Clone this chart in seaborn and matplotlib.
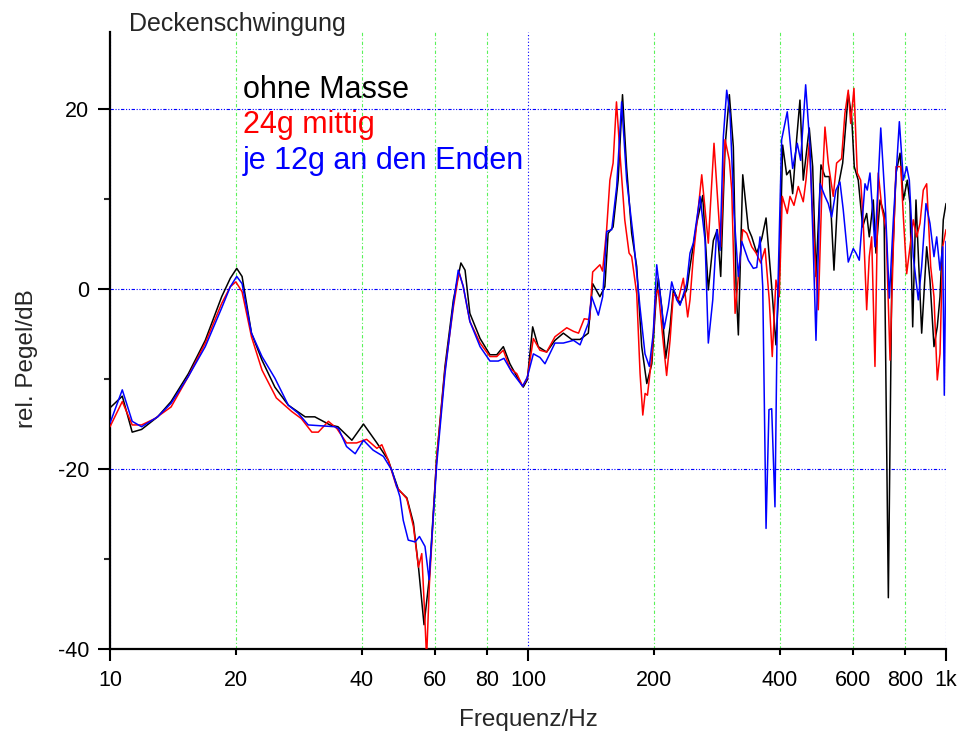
import numpy as np
import pandas as pd
import matplotlib
matplotlib.use("Agg")
import matplotlib.pyplot as plt
import matplotlib.ticker as mticker
import seaborn as sns

# ---------------- data ----------------
black_f = [10.0, 10.7, 11.3, 11.9, 13.0, 14.0, 15.4, 16.9, 18.5, 19.4,
           20.1, 20.7, 21.8, 23.1, 24.8, 26.7, 29.3, 30.9, 33.6, 35.1,
           37.9, 40.4, 43.5, 46.3, 49.0, 51.3, 53.2, 54.7, 56.4, 58.0,
           60.5, 63.3, 66.3, 69.1, 70.7, 72.6, 76.8, 81.1, 84.2, 87.3,
           90.5, 94.0, 97.4, 99.6, 102.6, 105.8, 110.8, 116.0, 121.5, 127.2,
           133.2, 139.4, 142.8, 148.6, 152.7, 155.5, 159.8, 164.3, 168.3, 172.1,
           177.0, 182.0, 187.1, 192.4, 197.8, 202.4, 205.0, 208.9, 213.5, 218.7,
           222.7, 231.1, 239.7, 244.1, 253.3, 261.8, 270.0, 277.6, 283.8, 289.1,
           296.1, 303.2, 309.9, 314.6, 318.6, 326.4, 336.6, 343.0, 352.6, 362.4,
           371.1, 382.8, 391.9, 399.1, 406.7, 415.7, 423.4, 429.7, 439.3, 447.3,
           455.5, 470.8, 479.8, 488.6, 502.2, 513.4, 525.7, 539.5, 552.4, 566.0,
           583.7, 594.8, 603.3, 616.7, 631.9, 646.0, 655.3, 669.9, 679.9, 695.4,
           710.9, 727.9, 741.7, 759.4, 776.4, 790.7, 808.0, 820.1, 832.4, 847.6,
           874.6, 899.0, 915.5, 935.9, 953.1, 967.5, 985.2, 1000]
black_db = [-13.2, -11.9, -15.9, -15.6, -14.2, -12.5, -9.4, -5.7, -0.85, 1.2,
            2.3, 1.4, -4.9, -7.9, -10.9, -12.9, -14.2, -14.2, -15.1, -15.3,
            -16.8, -15.0, -17.1, -19.0, -22.3, -23.2, -26.0, -30.9, -37.3, -32.3,
            -18.6, -8.6, -1.2, 2.9, 2.1, -2.7, -5.5, -7.3, -7.3, -6.4,
            -8.3, -9.7, -10.9, -10.1, -4.2, -6.4, -7.0, -5.7, -4.9, -5.6,
            -5.6, -4.9, 0.6, -0.85, 0.26, 6.2, 6.9, 12.1, 21.6, 13.6,
            6.2, 2.5, -6.4, -10.5, -8.3, -1.2, 1.2, -2.0, -7.7, -4.2,
            -0.1, -1.6, -0.1, 2.5, 7.3, 10.4, -0.1, 5.4, 6.6, 1.4,
            15.8, 21.6, 15.8, 0.26, -5.1, 12.7, 6.7, 5.8, 4.0, 5.6,
            7.9, 0.26, -6.2, 1.0, 16.0, 12.7, 13.2, 10.6, 16.7, 21.0,
            12.1, 17.9, 13.6, 1.4, 13.8, 12.5, 12.5, 2.1, 11.4, 14.0,
            21.7, 19.1, 13.6, 12.1, 6.9, 8.4, 5.8, 9.9, 4.0, 9.9,
            8.4, -34.3, 1.0, 12.9, 15.1, 9.9, 12.1, 9.5, -4.2, 9.9,
            -4.9, 4.7, 1.0, -6.4, -4.2, -0.85, 7.7, 9.5]

red_f = [10.0, 10.7, 11.3, 11.9, 12.8, 14.0, 15.4, 16.9, 18.5, 19.4,
         20.0, 20.7, 21.8, 23.1, 25.0, 27.2, 28.7, 30.4, 31.5, 33.3,
         34.9, 36.8, 38.9, 41.1, 43.5, 44.7, 46.3, 48.5, 51.3, 53.2,
         54.7, 55.7, 56.4, 57.2, 58.1, 60.5, 63.3, 66.3, 68.4, 70.0,
         72.6, 76.8, 81.1, 84.2, 87.3, 90.5, 94.0, 97.1, 99.6, 103.0,
         106.8, 110.8, 116.0, 123.8, 128.5, 132.1, 136.3, 140.4, 142.8, 148.6,
         150.8, 154.2, 157.0, 159.8, 162.8, 166.4, 170.4, 174.5, 177.0, 182.0,
         185.4, 188.2, 190.6, 193.1, 197.8, 202.4, 205.0, 210.0, 214.6, 218.7,
         222.7, 228.9, 235.3, 241.0, 244.1, 248.6, 260.4, 270.0, 278.6, 289.1,
         296.1, 303.2, 307.2, 312.9, 318.6, 326.4, 333.7, 343.0, 351.3, 360.4,
         369.1, 377.7, 384.0, 391.9, 399.1, 405.8, 417.1, 423.4, 432.8, 443.2,
         455.5, 462.4, 470.8, 483.2, 494.8, 504.2, 513.4, 522.8, 537.3, 547.4,
         562.6, 572.9, 583.7, 591.5, 602.3, 613.4, 625.0, 634.0, 646.0, 655.3,
         664.0, 676.2, 688.6, 701.9, 718.8, 734.8, 748.2, 759.4, 779.4, 790.7,
         805.3, 820.1, 835.1, 850.9, 866.5, 882.4, 899.0, 919.1, 935.9, 953.1,
         967.5, 982.0, 1000]
red_db = [-15.3, -12.5, -15.1, -15.1, -14.4, -13.1, -9.7, -6.0, -1.6, 0.26,
          0.8, -0.3, -5.3, -9.0, -12.1, -13.6, -14.4, -15.9, -15.9, -14.7,
          -15.5, -17.1, -17.1, -16.7, -17.7, -17.3, -19.0, -22.0, -23.3, -26.4,
          -30.9, -29.4, -34.6, -41.0, -32.7, -18.6, -9.0, -2.0, 1.9, 0.26,
          -3.6, -6.0, -7.5, -7.5, -6.8, -8.8, -9.4, -10.8, -9.9, -5.5,
          -6.8, -7.0, -5.3, -4.3, -4.7, -4.9, -3.3, -3.4, 1.9, 2.7,
          2.0, 6.6, 12.1, 14.0, 20.8, 14.3, 7.7, 4.0, 3.6, -0.5,
          -9.4, -14.0, -11.6, -11.8, -7.5, -0.5, -0.1, -5.3, -9.6, -5.7,
          -0.5, -1.2, 1.2, -3.1, -1.2, 3.6, 12.7, 5.1, 16.2, 4.7,
          16.6, 14.3, 11.0, -2.7, 1.4, 6.6, 6.2, 4.7, 4.0, 2.9,
          4.5, -1.2, -7.5, 1.0, -0.85, 10.3, 8.4, 10.3, 9.3, 11.4,
          9.7, 12.1, 16.2, 5.4, -2.3, 10.3, 18.0, 14.0, 10.3, 14.0,
          14.5, 19.5, 22.1, 18.4, 22.3, 12.9, 12.1, 7.3, -2.3, 3.6,
          5.8, -8.6, 12.9, 9.1, 6.6, -7.9, 4.7, 13.6, 13.6, 8.0,
          1.7, 4.7, 7.7, 5.8, 7.3, 11.0, 11.7, 2.5, -0.85, -10.1,
          -7.2, 4.7, 6.6]

blue_f = [10.0, 10.7, 11.3, 11.9, 13.0, 14.0, 15.4, 16.9, 18.5, 19.4,
          20.1, 20.7, 21.8, 23.1, 24.8, 26.7, 28.2, 29.8, 34.5, 35.2,
          36.8, 38.6, 40.4, 42.6, 45.1, 47.2, 49.4, 50.3, 51.7, 53.7,
          55.0, 56.7, 58.0, 60.5, 63.3, 66.3, 68.1, 70.0, 72.6, 76.8,
          81.1, 84.9, 87.6, 91.4, 97.1, 99.6, 103.0, 106.8, 109.8, 116.0,
          121.5, 128.5, 133.2, 139.4, 142.0, 147.3, 150.9, 154.3, 158.6, 163.0,
          167.5, 172.2, 178.6, 185.3, 190.5, 195.1, 199.4, 203.2, 206.9, 211.6,
          216.6, 220.7, 226.9, 231.1, 239.7, 244.1, 248.6, 258.0, 265.2, 270.0,
          276.7, 282.8, 288.0, 293.3, 298.8, 304.3, 311.1, 318.6, 324.6, 336.6,
          346.0, 352.6, 359.0, 364.4, 371.1, 377.1, 382.8, 389.8, 394.8, 404.4,
          417.1, 429.7, 440.7, 449.0, 461.6, 472.7, 481.3, 488.6, 499.8, 513.4,
          522.8, 532.7, 545.4, 557.6, 567.8, 583.7, 600.0, 609.0, 620.2, 640.0,
          648.1, 657.9, 676.2, 698.1, 714.8, 731.9, 748.2, 773.4, 790.7, 805.3,
          817.0, 835.1, 858.5, 874.6, 895.5, 915.5, 935.9, 950.0, 967.5, 982.0,
          990.7, 1000]
blue_db = [-14.9, -11.2, -14.7, -15.3, -14.2, -12.7, -9.7, -6.4, -2.1, 0.26,
           1.4, 0.6, -4.9, -7.5, -9.9, -12.9, -13.8, -15.1, -15.3, -15.5,
           -17.5, -18.3, -16.8, -17.9, -18.6, -20.1, -23.1, -25.7, -27.9, -28.1,
           -27.5, -28.6, -32.3, -19.4, -9.4, -1.6, 2.1, 0.3, -3.6, -6.4,
           -8.0, -8.0, -7.7, -9.2, -10.8, -9.8, -7.2, -7.6, -8.3, -6.0,
           -6.0, -5.7, -6.2, -3.8, -0.85, -2.9, -0.85, 6.4, 6.6, 11.4,
           20.8, 12.1, 5.8, -2.0, -7.2, -8.6, -4.9, 2.7, -0.5, -4.4,
           -2.0, 0.8, -1.2, -1.8, 0.6, 4.0, 5.1, 10.3, 5.4, -6.0,
           -1.2, 6.6, 4.3, 16.9, 22.1, 19.5, 8.4, 1.4, 5.3, 3.2,
           2.3, 2.4, 5.8, 0.26, -26.6, -13.4, -13.3, -24.2, -2.7, 16.6,
           19.7, 13.4, 16.2, 14.3, 22.7, 15.8, 4.7, -5.7, 11.7, 10.3,
           9.5, 8.0, 11.0, 11.9, 8.8, 3.0, 4.5, 4.0, 3.2, 11.7,
           11.0, 12.9, 4.7, 17.9, 9.9, -1.0, 7.7, 18.6, 12.1, 13.6,
           12.1, 3.6, -1.2, 2.5, 9.5, 7.3, 3.6, 5.8, 2.1, 4.7,
           -11.8, 5.3]

series_names = ["ohne Masse", "24g mittig", "je 12g an den Enden"]
series_colors = ["#000000", "#ff0000", "#0000ff"]
x_major_ticks = [10, 100, 1000]
x_major_labels = ["10", "100", "1k"]
x_minor_ticks = [20, 40, 60, 80, 200, 400, 600, 800]
x_minor_labels = ["20", "40", "60", "80", "200", "400", "600", "800"]
y_ticks = [-40, -20, 0, 20]
y_minor_ticks = [-30, -10, 10]
title_text = "Deckenschwingung"
x_label = "Frequenz/Hz"
y_label = "rel. Pegel/dB"

# ---------------- build long table ----------------
frames = []
for name, f, db in zip(series_names, [black_f, red_f, blue_f], [black_db, red_db, blue_db]):
    frames.append(pd.DataFrame({"freq": f, "level": db, "series": name}))
df = pd.concat(frames, ignore_index=True)

# ---------------- styling ----------------
sns.set_style("ticks")
plt.rcParams["font.family"] = ["Liberation Sans", "DejaVu Sans"]

W, H = 962, 740
fig = plt.figure(figsize=(W / 100, H / 100), dpi=100)
L, R, T, B = 110, 946, 31.7, 649
ax = fig.add_axes([L / W, (H - B) / H, (R - L) / W, (B - T) / H])

for name, col in zip(series_names, series_colors):
    sub = df[df["series"] == name]
    sns.lineplot(data=sub, x="freq", y="level", ax=ax, color=col, lw=1.1,
                 estimator=None, sort=False, legend=False, zorder=3)

ax.set_xscale("log")
ax.set_xlim(10, 1000)
ax.set_ylim(-40, 28.6)

ax.xaxis.set_major_locator(mticker.FixedLocator(x_major_ticks))
ax.xaxis.set_major_formatter(mticker.FixedFormatter(x_major_labels))
ax.xaxis.set_minor_locator(mticker.FixedLocator(x_minor_ticks))
ax.xaxis.set_minor_formatter(mticker.FixedFormatter(x_minor_labels))
ax.set_yticks(y_ticks)
ax.set_yticklabels([str(v) for v in y_ticks])
ax.set_yticks(y_minor_ticks, minor=True)

lab_fs = 15.5
ax.tick_params(axis="x", which="major", direction="out", length=8.6, width=1.5,
               labelsize=lab_fs, pad=6.5, color="black", labelcolor="black")
ax.tick_params(axis="x", which="minor", direction="out", length=4.3, width=1.5,
               labelsize=lab_fs, pad=6.5 + 4.3, color="black", labelcolor="black")
ax.tick_params(axis="y", which="major", direction="out", length=8.6, width=1.5,
               labelsize=lab_fs, pad=6.5, color="black", labelcolor="black")
ax.tick_params(axis="y", which="minor", direction="out", length=4, width=1.5)

for s in ["top", "right"]:
    ax.spines[s].set_visible(False)
for s in ["left", "bottom"]:
    ax.spines[s].set_linewidth(1.6)
    ax.spines[s].set_color("black")

# grid: green dash-dot at the in-between x ticks, blue dotted at 100 Hz and y ticks
ax.grid(False)
ax.xaxis.grid(True, which="minor", color="#22ee22", lw=0.8, ls=(0, (3, 2, 1, 2)), alpha=0.75)
ax.xaxis.grid(True, which="major", color="#0000ff", lw=0.8, ls=(0, (1, 2)))
ax.yaxis.grid(True, which="major", color="#0000ff", lw=0.8, ls=(0, (3, 1.5, 1, 1.5, 1, 1.5)))
ax.set_axisbelow(True)

ax.set_xlabel(x_label, fontsize=17.5)
ax.set_ylabel(y_label, fontsize=17.5)
ax.xaxis.set_label_coords((528 - L) / (R - L), -(709 - B) / (B - T))
ax.yaxis.set_label_coords(-(110 - 38) / (R - L), (B - 359) / (B - T))

fig.text(129 / W, 1 - 31 / H, title_text, fontsize=18, va="baseline", ha="left")
for i, (name, col) in enumerate(zip(series_names, series_colors)):
    fig.text(243 / W, 1 - (97.5 + 36 * i) / H, name, color=col, fontsize=22,
             va="baseline", ha="left")

fig.savefig("out.png", dpi=100)
